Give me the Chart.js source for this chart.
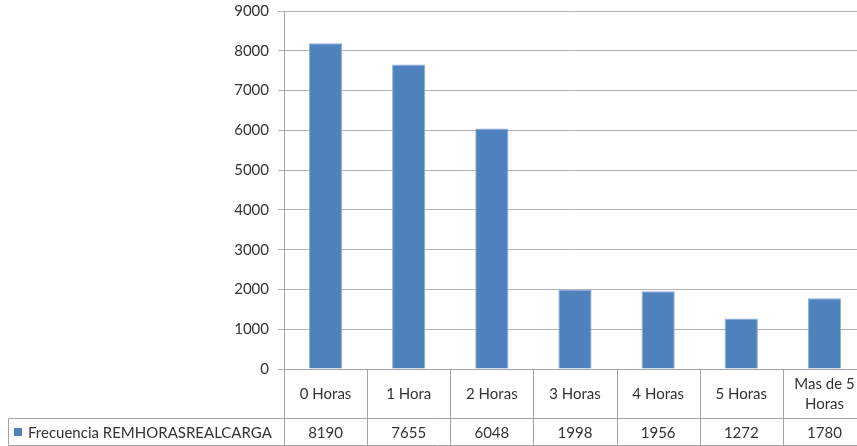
<!DOCTYPE html>
<html lang="es">
<head>
<meta charset="utf-8">
<title>Frecuencia REMHORASREALCARGA</title>
<script src="https://cdn.jsdelivr.net/npm/chart.js@4/dist/chart.umd.min.js"></script>
<style>
    html, body { margin: 0; padding: 0; background: #fff; overflow: hidden; }
    #marco { width: 857px; height: 446px; overflow: hidden; }
    canvas { display: block; }
</style>
</head>
<body>
<div id="marco">
    <canvas id="grafico" width="870" height="446"></canvas>
</div>
<script>
const serieNombre = "Frecuencia REMHORASREALCARGA";
const categorias = ["0 Horas", "1 Hora", "2 Horas", "3 Horas", "4 Horas", "5 Horas", ["Mas de 5", "Horas"]];
const frecuencias = [8190, 7655, 6048, 1998, 1956, 1272, 1780];
const ejeYMin = 0;
const ejeYMax = 9000;
const ejeYPaso = 1000;

const AZUL = "#4f81bd";
const GRIS_REJILLA = "#b3b3b3";
const GRIS_TABLA = "#a3a3a3";
const TEXTO = "#333333";
const FUENTE = "Lato, 'Open Sans', sans-serif";
const TAM_FUENTE = 15;

const ALTO_CABECERA = 49; // fila con los nombres de categoria
const ALTO_VALORES = 27;  // fila con los valores de la serie
const IZQ_TABLA = 8;

function linea(ctx, x1, y1, x2, y2) {
    ctx.beginPath();
    ctx.moveTo(x1, y1);
    ctx.lineTo(x2, y2);
    ctx.stroke();
}

// tabla de datos debajo del eje X, estilo Excel
const tablaDatos = {
    id: "tablaDatos",
    afterDraw(chart) {
        const ctx = chart.ctx;
        const ejeX = chart.scales.x;
        const area = chart.chartArea;
        const n = categorias.length;
        const ancho = (area.right - area.left) / n;

        const ySup = Math.round(area.bottom) + 0.5;
        const yMed = ySup + ALTO_CABECERA;
        const yInf = yMed + ALTO_VALORES;
        const xIzq = Math.round(area.left) + 0.5;

        ctx.save();
        ctx.strokeStyle = GRIS_TABLA;
        ctx.lineWidth = 1;

        linea(ctx, xIzq, ySup, area.right, ySup);
        linea(ctx, IZQ_TABLA + 0.5, yMed, area.right, yMed);
        linea(ctx, IZQ_TABLA + 0.5, yInf, area.right, yInf);
        linea(ctx, IZQ_TABLA + 0.5, yMed, IZQ_TABLA + 0.5, yInf);
        for (let i = 0; i <= n; i++) {
            const xb = Math.round(ejeX.getPixelForValue(i) - ancho / 2) + 0.5;
            linea(ctx, xb, ySup, xb, yInf);
        }

        ctx.fillStyle = TEXTO;
        ctx.font = TAM_FUENTE + "px " + FUENTE;
        ctx.textAlign = "center";
        ctx.textBaseline = "middle";

        categorias.forEach((cat, i) => {
            const xc = ejeX.getPixelForValue(i);
            const lineas = Array.isArray(cat) ? cat : [cat];
            const alto = 20;
            const y0 = (ySup + yMed) / 2 - (lineas.length - 1) * alto / 2;
            lineas.forEach((t, k) => ctx.fillText(t, xc, y0 + k * alto));
            ctx.fillText(String(frecuencias[i]), xc, (yMed + yInf) / 2 + 1);
        });

        // clave de leyenda + nombre de la serie
        const yc = (yMed + yInf) / 2;
        ctx.fillStyle = AZUL;
        ctx.fillRect(IZQ_TABLA + 6, Math.round(yc) - 4, 8, 8);
        ctx.fillStyle = TEXTO;
        ctx.textAlign = "left";
        ctx.fillText(serieNombre, IZQ_TABLA + 20, yc + 1);
        ctx.restore();
    },
};

new Chart(document.getElementById("grafico"), {
    type: "bar",
    data: {
        labels: categorias,
        datasets: [
            {
                label: serieNombre,
                data: frecuencias,
                backgroundColor: AZUL,
                borderColor: "#8fb0dc",
                borderWidth: 1,
                categoryPercentage: 1,
                barPercentage: 0.4,
            },
        ],
    },
    plugins: [tablaDatos],
    options: {
        responsive: false,
        animation: false,
        devicePixelRatio: 1,
        layout: { padding: { top: 11, right: 4, bottom: ALTO_VALORES + 1, left: 0 } },
        plugins: {
            legend: { display: false },
            tooltip: { enabled: false },
        },
        scales: {
            x: {
                grid: { display: false },
                border: { display: false },
                ticks: { display: false },
                afterFit(scale) {
                    scale.height = ALTO_CABECERA;
                },
            },
            y: {
                min: ejeYMin,
                max: ejeYMax,
                ticks: {
                    stepSize: ejeYPaso,
                    color: TEXTO,
                    padding: 9,
                    font: { family: FUENTE, size: TAM_FUENTE },
                    callback: (v) => String(v),
                },
                grid: { color: GRIS_REJILLA, tickLength: 6 },
                border: { color: GRIS_TABLA },
                afterFit(scale) {
                    scale.width = 284;
                    // sin reserva extra por la etiqueta superior
                    scale.paddingTop = 0;
                    scale.paddingBottom = 0;
                },
            },
        },
    },
});
</script>
</body>
</html>
